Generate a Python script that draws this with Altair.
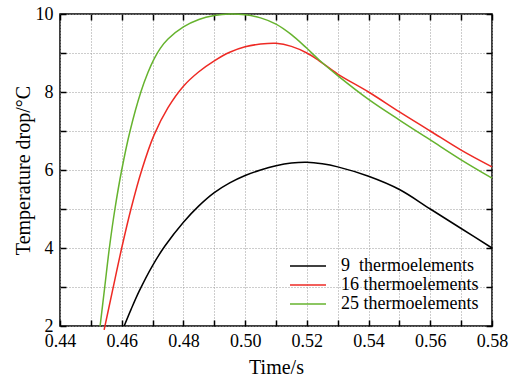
import altair as alt
import pandas as pd

# --- data ---
t9 = [0.4608, 0.463, 0.4657, 0.47, 0.474, 0.48, 0.485, 0.49, 0.495, 0.50, 0.505, 0.51, 0.515, 0.52,
      0.525, 0.53, 0.54, 0.55, 0.56, 0.57, 0.58]
v9 = [2.0, 2.42, 2.9, 3.55, 4.05, 4.66, 5.08, 5.42, 5.67, 5.86, 6.0, 6.11, 6.18, 6.2,
      6.16, 6.08, 5.84, 5.5, 5.0, 4.5, 4.0]

t16 = [0.4543, 0.457, 0.46, 0.463, 0.4665, 0.4705, 0.475, 0.48, 0.485, 0.49, 0.495, 0.50,
       0.505, 0.51, 0.515, 0.52, 0.524, 0.53, 0.54, 0.55, 0.56, 0.57, 0.58]
v16 = [1.9, 2.9, 4.0, 5.0, 6.0, 6.9, 7.6, 8.15, 8.52, 8.8, 9.02, 9.16,
       9.23, 9.25, 9.17, 9.0, 8.8, 8.46, 8.0, 7.49, 7.0, 6.51, 6.08]

t25 = [0.453, 0.4545, 0.456, 0.4578, 0.46, 0.4627, 0.4662, 0.4685, 0.4705, 0.4725, 0.475, 0.48,
       0.485, 0.49, 0.495, 0.50, 0.505, 0.51, 0.515, 0.52, 0.524, 0.53, 0.54, 0.55, 0.56, 0.57, 0.58]
v25 = [2.0, 3.0, 4.0, 5.0, 6.0, 7.0, 8.0, 8.5, 8.85, 9.12, 9.36, 9.67,
       9.86, 9.96, 10.0, 9.98, 9.9, 9.74, 9.47, 9.12, 8.82, 8.42, 7.81, 7.28, 6.77, 6.26, 5.79]

names = ["9\u00a0\u00a0thermoelements", "16 thermoelements", "25 thermoelements"]
colors = ["#000000", "#ee2a24", "#66b32e"]

x_ticks = [0.44, 0.45, 0.46, 0.47, 0.48, 0.49, 0.50, 0.51, 0.52, 0.53, 0.54, 0.55, 0.56, 0.57, 0.58]
y_ticks = [2, 3, 4, 5, 6, 7, 8, 9, 10]

rows = []
for name, ts, vs in zip(names, [t9, t16, t25], [v9, v16, v25]):
    for t, v in zip(ts, vs):
        rows.append({"t": t, "v": v, "s": name})
df = pd.DataFrame(rows)

FONT = "Liberation Serif"
xs = alt.Scale(domain=[0.44, 0.58], nice=False, zero=False)
ys = alt.Scale(domain=[2, 10], nice=False, zero=False)

x_label_expr = "round(datum.value*100) % 2 == 0 ? format(datum.value, '.2f') : ''"
y_label_expr = "datum.value % 2 == 0 ? datum.label : ''"

lines = alt.Chart(df).mark_line(strokeWidth=1.5, interpolate="catmull-rom").encode(
    x=alt.X("t:Q", scale=xs, axis=alt.Axis(
        orient="bottom", values=x_ticks, offset=-6, tickSize=6, tickWidth=1.5, tickColor="black",
        domain=False, grid=True, gridColor="#9a9a9a", gridDash=[1, 2], gridWidth=1,
        labelExpr=x_label_expr, labelFont=FONT, labelFontSize=18, labelColor="black",
        labelPadding=6, labelFlush=False,
        title="Time/s", titleFont=FONT, titleFontSize=20, titleFontWeight="normal",
        titleColor="black", titlePadding=7)),
    y=alt.Y("v:Q", scale=ys, axis=alt.Axis(
        orient="left", values=y_ticks, offset=-6, tickSize=6, tickWidth=1.5, tickColor="black",
        domain=False, grid=True, gridColor="#9a9a9a", gridDash=[1, 2], gridWidth=1,
        labelExpr=y_label_expr, labelFont=FONT, labelFontSize=18, labelColor="black",
        labelPadding=7, labelFlush=False,
        title="Temperature drop/°C", titleFont=FONT, titleFontSize=20, titleFontWeight="normal",
        titleColor="black", titlePadding=2)),
    color=alt.Color("s:N", scale=alt.Scale(domain=names, range=colors), legend=alt.Legend(
        orient="none", legendX=239, legendY=243, title=None, padding=0,
        symbolType="M-3,0H3", symbolSize=144, symbolStrokeWidth=1.5,
        labelFont=FONT, labelFontSize=18, labelColor="black", labelOffset=24,
        rowPadding=1)),
)

frame = alt.Chart(df).mark_line(opacity=0).encode(
    x=alt.X("t:Q", scale=xs, axis=alt.Axis(
        orient="top", values=x_ticks, offset=-6, tickSize=6, tickWidth=1.5, tickColor="black",
        domain=False, grid=False, labels=False, title=None)),
    y=alt.Y("v:Q", scale=ys, axis=alt.Axis(
        orient="right", values=y_ticks, offset=-6, tickSize=6, tickWidth=1.5, tickColor="black",
        domain=False, grid=False, labels=False, title=None)),
    detail="s:N",
)

chart = alt.layer(lines, frame).properties(
    width=432, height=312,
    autosize=alt.AutoSizeParams(type="none"),
    padding={"left": 60, "top": 14, "right": 20, "bottom": 52},
).configure(background="white", font=FONT).configure_view(
    stroke="black", strokeWidth=1.5
).configure_axis(labelFont=FONT, titleFont=FONT).configure_legend(labelFont=FONT)

chart.save("out.html", embed_options={"renderer": "svg", "actions": False})
